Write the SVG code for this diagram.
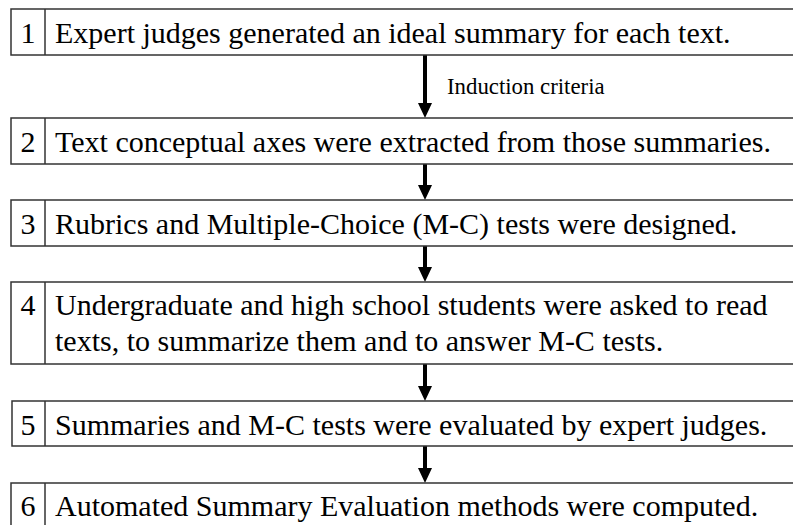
<svg xmlns="http://www.w3.org/2000/svg" width="793" height="525" viewBox="0 0 793 525">
<defs>
<style>
.box{fill:#fff;stroke:#333;stroke-width:1.5}
.div{stroke:#333;stroke-width:1.5}
.t{font-family:"Liberation Serif","Times New Roman",serif;font-size:30px;fill:#000}
.n{font-family:"Liberation Serif","Times New Roman",serif;font-size:30px;fill:#000;text-anchor:middle}
.lbl{font-family:"Liberation Serif","Times New Roman",serif;font-size:22.8px;fill:#000}
.shaft{stroke:#000;stroke-width:4;fill:none}
.head{fill:#000}
</style>
</defs>
<rect width="793" height="525" fill="#fff"/>
<g id="connectors">
<line class="shaft" x1="425" y1="55" x2="425" y2="104"/>
<path class="head" d="M418,103 L432,103 L425,118 Z"/>
<line class="shaft" x1="425" y1="164" x2="425" y2="186"/>
<path class="head" d="M418,185 L432,185 L425,200 Z"/>
<line class="shaft" x1="425" y1="246" x2="425" y2="268"/>
<path class="head" d="M418,267 L432,267 L425,282 Z"/>
<line class="shaft" x1="425" y1="364" x2="425" y2="387"/>
<path class="head" d="M418,386 L432,386 L425,401 Z"/>
<line class="shaft" x1="425" y1="446" x2="425" y2="469"/>
<path class="head" d="M418,468 L432,468 L425,483 Z"/>
<text class="lbl" x="447" y="94">Induction criteria</text>
</g>
<g id="step1">
<rect class="box" x="11" y="9" width="800" height="46"/>
<line class="div" x1="45" y1="9" x2="45" y2="55"/>
<text class="n" x="28" y="43">1</text>
<text class="t" x="55" y="43">Expert judges generated an ideal summary for each text.</text>
</g>
<g id="step2">
<rect class="box" x="11" y="118" width="800" height="46"/>
<line class="div" x1="45" y1="118" x2="45" y2="164"/>
<text class="n" x="28" y="152">2</text>
<text class="t" x="55" y="152">Text conceptual axes were extracted from those summaries.</text>
</g>
<g id="step3">
<rect class="box" x="11" y="200" width="800" height="46"/>
<line class="div" x1="45" y1="200" x2="45" y2="246"/>
<text class="n" x="28" y="234">3</text>
<text class="t" x="55" y="234">Rubrics and Multiple-Choice (M-C) tests were designed.</text>
</g>
<g id="step4">
<rect class="box" x="11" y="282" width="800" height="82"/>
<line class="div" x1="45" y1="282" x2="45" y2="364"/>
<text class="n" x="28" y="315">4</text>
<text class="t" x="55" y="315">Undergraduate and high school students were asked to read</text>
<text class="t" x="55" y="351">texts, to summarize them and to answer M-C tests.</text>
</g>
<g id="step5">
<rect class="box" x="12" y="401" width="800" height="45"/>
<line class="div" x1="45" y1="401" x2="45" y2="446"/>
<text class="n" x="28" y="435">5</text>
<text class="t" x="55" y="435">Summaries and M-C tests were evaluated by expert judges.</text>
</g>
<g id="step6">
<rect class="box" x="11" y="483" width="800" height="60"/>
<line class="div" x1="45" y1="483" x2="45" y2="530"/>
<text class="n" x="28" y="516">6</text>
<text class="t" x="55" y="516">Automated Summary Evaluation methods were computed.</text>
</g>
</svg>
